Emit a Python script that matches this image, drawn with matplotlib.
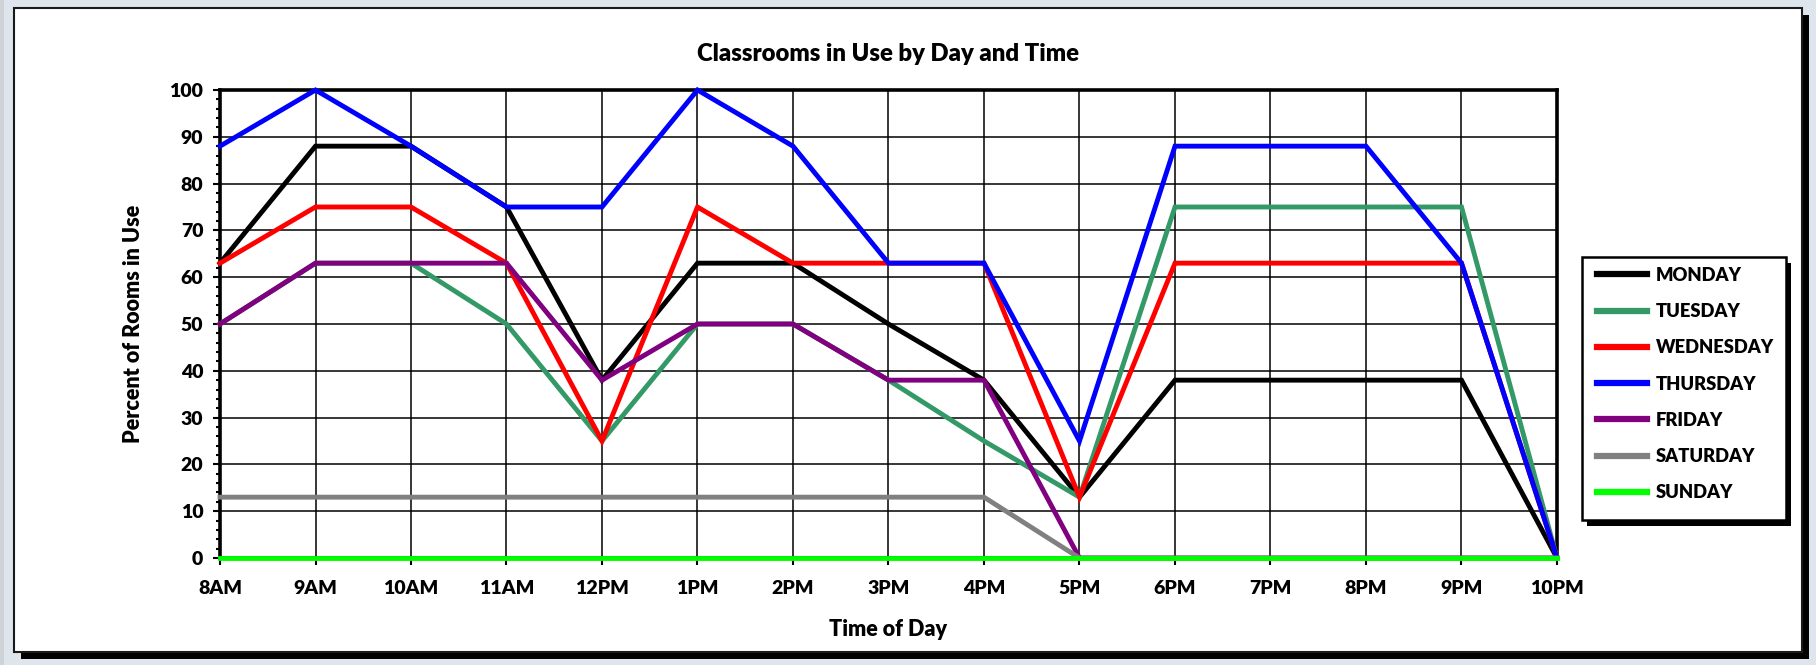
import matplotlib
matplotlib.use("Agg")
import matplotlib.pyplot as plt
from matplotlib.patches import Rectangle
from matplotlib.lines import Line2D
from matplotlib.ticker import MultipleLocator

plt.rcParams['font.family'] = ['Lato', 'DejaVu Sans']
plt.rcParams['font.weight'] = 'heavy'
WEIGHT = 'heavy'

times = ['8AM', '9AM', '10AM', '11AM', '12PM', '1PM', '2PM', '3PM', '4PM',
         '5PM', '6PM', '7PM', '8PM', '9PM', '10PM']

monday    = [63, 88, 88, 75, 38, 63, 63, 50, 38, 13, 38, 38, 38, 38, 0]
tuesday   = [50, 63, 63, 50, 25, 50, 50, 38, 25, 13, 75, 75, 75, 75, 0]
wednesday = [63, 75, 75, 63, 25, 75, 63, 63, 63, 13, 63, 63, 63, 63, 0]
thursday  = [88, 100, 88, 75, 75, 100, 88, 63, 63, 25, 88, 88, 88, 63, 0]
friday    = [50, 63, 63, 63, 38, 50, 50, 38, 38, 0, 0, 0, 0, 0, 0]
saturday  = [13, 13, 13, 13, 13, 13, 13, 13, 13, 0, 0, 0, 0, 0, 0]
sunday    = [0, 0, 0, 0, 0, 0, 0, 0, 0, 0, 0, 0, 0, 0, 0]

day_names = ['MONDAY', 'TUESDAY', 'WEDNESDAY', 'THURSDAY', 'FRIDAY', 'SATURDAY', 'SUNDAY']
day_series = [monday, tuesday, wednesday, thursday, friday, saturday, sunday]
day_colors = ['#000000', '#339966', '#FF0000', '#0000FF', '#800080', '#808080', '#00FF00']

W, H = 1816, 665
fig = plt.figure(figsize=(W / 100, H / 100), dpi=100)
fig.patch.set_facecolor('#dfe5ed')


def fx(px):
    return px / W


def fy(py):
    return 1 - py / H


def box(x0, y0, x1, y1, **kw):
    r = Rectangle((fx(x0), fy(y1)), fx(x1) - fx(x0), fy(y0) - fy(y1),
                  transform=fig.transFigure, **kw)
    fig.add_artist(r)
    return r


# left window strip
box(0, 0, 4, H, facecolor='#cfd2d6', edgecolor='none', zorder=0)
# chart area with drop shadow
box(21, 15, 1809, 659, facecolor='black', edgecolor='none', zorder=0)
box(14, 8, 1802, 652, facecolor='white', edgecolor='#1a1a1a', linewidth=1.5, zorder=0)
# legend frame with drop shadow
box(1587, 263, 1791, 526, facecolor='black', edgecolor='none', zorder=1)
box(1582, 257, 1786, 520, facecolor='white', edgecolor='black', linewidth=1.8, zorder=1)

ax = fig.add_axes([fx(220), fy(558), fx(1557) - fx(220), fy(90) - fy(558)])
ax.set_facecolor('white')

x = list(range(len(times)))
for name, vals, col in zip(day_names, day_series, day_colors):
    ax.plot(x, vals, color=col, linewidth=3.5, label=name, zorder=3,
            solid_joinstyle='miter', clip_on=False)

ax.set_xlim(0, len(times) - 1)
ax.set_ylim(0, 100)
ax.set_xticks(x)
ax.set_xticklabels(times)
ax.yaxis.set_major_locator(MultipleLocator(10))
ax.yaxis.set_minor_locator(MultipleLocator(2))
ax.grid(True, which='major', color='black', linewidth=1.1, zorder=1)
ax.set_axisbelow(True)

for side in ['top', 'left', 'right', 'bottom']:
    ax.spines[side].set_linewidth(2.6)
    ax.spines[side].set_color('black')

ax.tick_params(axis='both', which='major', direction='out', length=5, width=1.5,
               labelsize=14, colors='black')
ax.tick_params(axis='y', which='minor', direction='out', length=3, width=1.5)
ax.tick_params(axis='x', which='major', pad=11)
ax.tick_params(axis='y', which='major', pad=7)
for lab in ax.get_xticklabels() + ax.get_yticklabels():
    lab.set_fontweight(WEIGHT)

ax.set_title('Classrooms in Use by Day and Time', fontsize=17.2, fontweight=WEIGHT, pad=21)
ax.set_xlabel('Time of Day', fontsize=15.5, fontweight=WEIGHT, labelpad=16)
ax.set_ylabel('Percent of Rooms in Use', fontsize=15.5, fontweight=WEIGHT, labelpad=18)

handles = [Line2D([], [], color=c, linewidth=4.5) for c in day_colors]
leg = fig.legend(handles, day_names, loc='center left',
                 bbox_to_anchor=(fx(1597), fy(384)), frameon=False,
                 borderpad=0, borderaxespad=0, handlelength=2.75,
                 handletextpad=0.45, labelspacing=1.05,
                 prop={'family': ['Lato', 'DejaVu Sans'], 'weight': WEIGHT, 'size': 13.2})
leg.set_zorder(5)

fig.savefig('out.png', dpi=100, facecolor=fig.get_facecolor())
